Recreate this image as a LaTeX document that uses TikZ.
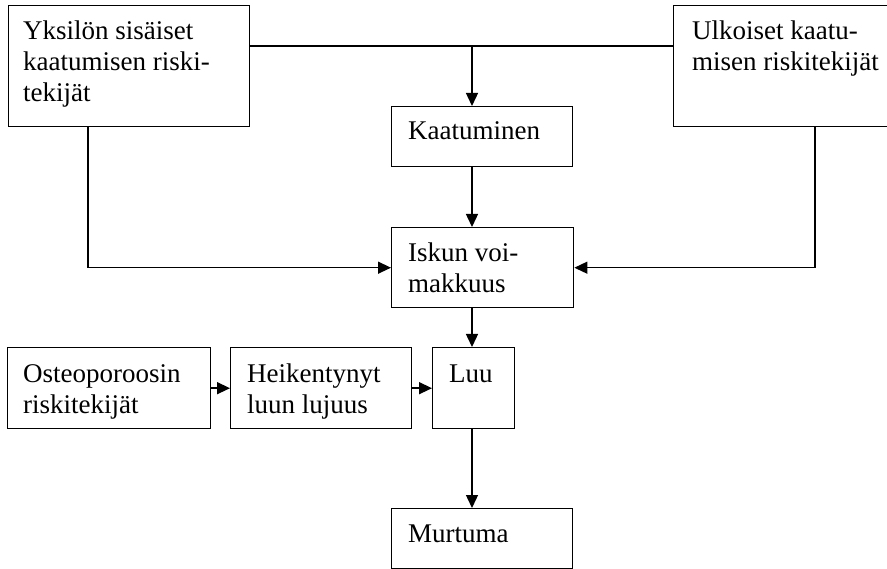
\documentclass[tikz,border=0pt]{standalone}
\usepackage{fontspec}
\setmainfont{Liberation Serif}
\usetikzlibrary{arrows.meta}
\begin{document}
\begin{tikzpicture}[x=1pt,y=-1pt,
  box/.style={draw,line width=1.4pt,rectangle,inner sep=0pt,anchor=north west},
  lbl/.style={anchor=north west,inner sep=0pt,align=left,font=\fontsize{27}{31}\selectfont},
  conn/.style={line width=1.4pt},
  arr/.style={line width=1.4pt,-{Triangle[length=13pt,width=12pt]}}]
\useasboundingbox (0,0) rectangle (887,569);
\clip (0,0) rectangle (887,569);
% boxes
\node[box,minimum width=241pt,minimum height=121pt] (yks) at (8,5) {};
\node[box,minimum width=217pt,minimum height=121pt] (ulk) at (673,5) {};
\node[box,minimum width=181pt,minimum height=60pt] (kaat) at (391,106) {};
\node[box,minimum width=182pt,minimum height=80pt] (isk) at (391,227) {};
\node[box,minimum width=203pt,minimum height=81pt] (ost) at (7,347) {};
\node[box,minimum width=181pt,minimum height=81pt] (hei) at (230,347) {};
\node[box,minimum width=82pt,minimum height=81pt] (luu) at (432,347) {};
\node[box,minimum width=181pt,minimum height=60pt] (mur) at (391,508) {};
% texts
\node[lbl] (tyks) at (23,17.3) {\strut Yksilön sisäiset\\kaatumisen riski-\\tekijät};
\node[lbl] (tulk) at (692,17.3) {\strut Ulkoiset kaatu-\\misen riskitekijät};
\node[lbl] (tkaat) at (408,117.3) {\strut Kaatuminen};
\node[lbl] (tisk) at (408,239.3) {\strut Iskun voi-\\makkuus};
\node[lbl] (tost) at (23,360.3) {\strut Osteoporoosin\\riskitekijät};
\node[lbl] (thei) at (247,360.3) {\strut Heikentynyt\\luun lujuus};
\node[lbl] (tluu) at (449,360.3) {\strut Luu};
\node[lbl] (tmur) at (408,520.3) {\strut Murtuma};
% helper coordinates
\coordinate (jn) at (472,46);
\coordinate (lx) at (88,0);
\coordinate (rx) at (815,0);
% connectors
\draw[conn] (yks.east|-jn) -- (ulk.west|-jn);
\draw[arr] (jn) -- (jn|-kaat.north);
\draw[arr] (jn|-kaat.south) -- (jn|-isk.north);
\draw[arr] (yks.south-|lx) |- (isk.west);
\draw[arr] (ulk.south-|rx) |- (isk.east);
\draw[arr] (jn|-isk.south) -- (jn|-luu.north);
\draw[arr] (ost.east) -- (hei.west);
\draw[arr] (hei.east) -- (luu.west);
\draw[arr] (jn|-luu.south) -- (jn|-mur.north);
\end{tikzpicture}
\end{document}
